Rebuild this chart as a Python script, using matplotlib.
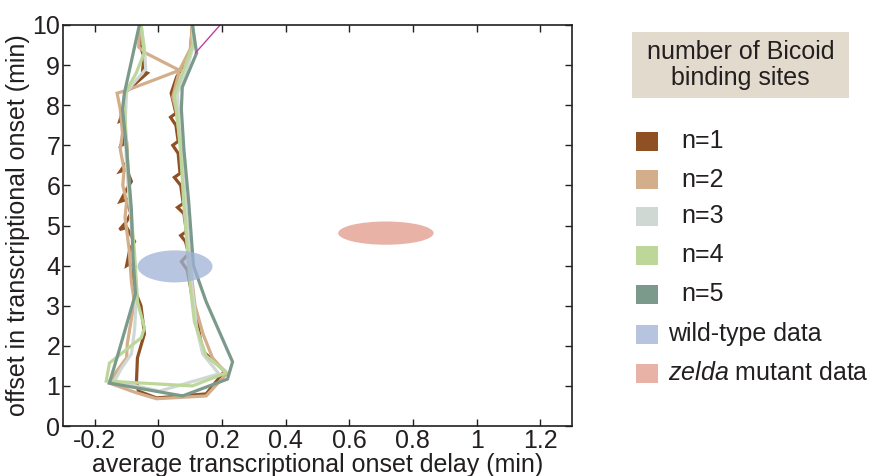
import matplotlib
matplotlib.use("Agg")
import matplotlib.pyplot as plt
from matplotlib.patches import Ellipse, Rectangle

plt.rcParams['font.family'] = ['Liberation Sans', 'DejaVu Sans']
plt.rcParams['mathtext.fontset'] = 'custom'
plt.rcParams['mathtext.rm'] = 'Liberation Sans'
plt.rcParams['mathtext.it'] = 'Liberation Sans:italic'

# model traces: closed loops (x = onset delay, y = offset)
n1_x = [-0.055, -0.058, -0.045, -0.05, -0.035, -0.1, -0.11, -0.11, -0.122, -0.105, -0.108, -0.118, -0.1,
        -0.098, -0.12, -0.1, -0.085, -0.1, -0.12, -0.1, -0.087, -0.1, -0.122, -0.1, -0.075, -0.09,
        -0.1, -0.09, -0.075, -0.07, -0.055, -0.044, -0.066, -0.069, -0.063, -0.006, 0.15, 0.208,
        0.139, 0.123, 0.11, 0.1, 0.09, 0.072, 0.095, 0.085, 0.07, 0.088, 0.08, 0.06, 0.078, 0.07,
        0.05, 0.068, 0.062, 0.045, 0.062, 0.055, 0.038, 0.055, 0.04, 0.057, 0.1, 0.107]
n1_y = [10.0, 9.5, 9.2, 8.85, 8.8, 8.35, 8.0, 7.9, 7.6, 7.65, 7.2, 7.0, 7.05,
        6.6, 6.35, 6.4, 6.1, 5.9, 5.6, 5.65, 5.3, 5.1, 4.9, 4.95, 4.6, 4.4,
        4.0, 4.05, 3.6, 3.3, 3.0, 2.3, 1.7, 1.12, 0.87, 0.7, 0.8, 1.37,
        1.87, 2.55, 3.0, 3.5, 3.9, 4.1, 4.3, 4.6, 4.75, 4.85, 5.3, 5.45, 5.55, 6.0,
        6.2, 6.3, 6.8, 7.0, 7.1, 7.5, 7.7, 7.8, 8.3, 8.7, 9.3, 10.0]

n2_x = [-0.058, -0.062, -0.04, 0.066, -0.1, -0.13, -0.12, -0.113, -0.12, -0.108, -0.112, -0.1,
        -0.105, -0.092, -0.085, -0.076, -0.098, -0.1, -0.13, -0.154, -0.07, -0.006, 0.15, 0.214,
        0.17, 0.14, 0.115, 0.1, 0.09, 0.08, 0.07, 0.055, 0.045, 0.066, 0.1, 0.107]
n2_y = [10.0, 9.45, 9.3, 8.87, 8.37, 8.3, 7.9, 7.3, 6.9, 6.4, 6.0, 5.6,
        5.2, 4.4, 3.6, 3.1, 2.05, 1.7, 1.38, 1.07, 0.83, 0.68, 0.75, 1.3,
        1.7, 2.3, 3.0, 4.0, 5.0, 6.0, 7.0, 7.9, 8.2, 8.87, 9.4, 10.0]

n3_x = [-0.055, -0.045, -0.04, -0.1, -0.105, -0.1, -0.09, -0.08, -0.068, -0.075, -0.085, -0.117,
        -0.138, 0.003, 0.19, 0.139, 0.12, 0.105, 0.095, 0.085, 0.075, 0.065, 0.06, 0.09, 0.11, 0.107]
n3_y = [10.0, 9.5, 8.9, 8.35, 7.5, 6.5, 5.5, 4.5, 3.4, 2.4, 1.8, 1.43,
        1.12, 0.87, 1.3, 1.8, 2.45, 3.5, 4.5, 5.5, 6.5, 7.5, 8.3, 8.9, 9.5, 10.0]

n4_x = [-0.054, -0.045, -0.07, -0.105, -0.108, -0.1, -0.088, -0.075, -0.066, -0.044, -0.054, -0.154,
        -0.164, 0.107, 0.214, 0.15, 0.113, 0.1, 0.09, 0.08, 0.07, 0.058, 0.05, 0.113, 0.107]
n4_y = [10.0, 9.3, 8.8, 8.3, 8.1, 7.0, 5.5, 4.3, 3.1, 2.45, 2.2, 1.57,
        1.12, 1.0, 1.33, 1.75, 2.6, 3.5, 4.5, 5.5, 6.8, 7.8, 8.25, 9.6, 10.0]

n5_x = [-0.06, -0.107, -0.113, -0.1, -0.085, -0.08, -0.072, -0.123, -0.154, 0.076, 0.217, 0.233,
        0.15, 0.11, 0.095, 0.08, 0.072, 0.075, 0.12, 0.107]
n5_y = [10.0, 8.3, 7.9, 6.9, 5.4, 4.2, 3.3, 1.9, 1.07, 0.75, 1.17, 1.6,
        3.1, 4.0, 5.6, 6.9, 7.9, 8.45, 9.3, 10.0]

series_labels = ['n=1', 'n=2', 'n=3', 'n=4', 'n=5']
series_colors = ['#8f5024', '#d3ae8b', '#cfd8d2', '#bdd79a', '#7b9a8b']

extra_x = [0.116, 0.194]
extra_y = [9.3, 10.0]

# measured data ellipses: center x, center y, width, height
wt_center = (0.052, 3.98)
wt_size = (0.236, 0.8)
zelda_center = (0.715, 4.81)
zelda_size = (0.30, 0.58)

xticks = [-0.2, 0, 0.2, 0.4, 0.6, 0.8, 1.0, 1.2]
xtick_labels = ['-0.2', '0', '0.2', '0.4', '0.6', '0.8', '1', '1.2']
yticks = list(range(0, 11))

W, H = 873, 476
fig = plt.figure(figsize=(W / 100, H / 100), dpi=100)
ax = fig.add_axes([63 / W, 1 - 426 / H, (572 - 63) / W, (426 - 25) / H])

series = [(n1_x, n1_y), (n2_x, n2_y), (n3_x, n3_y), (n4_x, n4_y), (n5_x, n5_y)]
for (xs, ys), c in zip(series, series_colors):
    ax.plot(xs, ys, color=c, lw=2.3, solid_joinstyle='miter', zorder=2)
ax.plot(extra_x, extra_y, color='#c23fa2', lw=1.0, zorder=2)

ax.add_patch(Ellipse(wt_center, *wt_size, facecolor='#9fb2d6', alpha=0.75,
                     edgecolor='none', zorder=3))
ax.add_patch(Ellipse(zelda_center, *zelda_size, facecolor='#e8b3a6',
                     edgecolor='none', zorder=3))

ax.set_xlim(-0.3, 1.3)
ax.set_ylim(0, 10)
ax.set_xticks(xticks)
ax.set_xticklabels(xtick_labels)
ax.set_yticks(yticks)
ax.tick_params(direction='in', top=True, right=True, length=5, width=1,
               labelsize=18, colors='#231f20', pad=2)
for s in ax.spines.values():
    s.set_linewidth(1.2)
    s.set_color('#231f20')
ax.set_xlabel('average transcriptional onset delay (min)', fontsize=18,
              color='#231f20', labelpad=0)
ax.set_ylabel('offset in transcriptional onset (min)', fontsize=18,
              color='#231f20', labelpad=2)


def fx(px):
    return px / W


def fy(py):
    return 1 - py / H


# legend drawn by hand in figure pixels
fig.add_artist(Rectangle((fx(632), fy(98)), (849 - 632) / W, (98 - 32) / H,
                         transform=fig.transFigure, facecolor='#e2dbcd',
                         edgecolor='none'))
fig.text(fx(740.5), fy(65), 'number of Bicoid\nbinding sites', ha='center',
         va='center', fontsize=18, color='#231f20', linespacing=1.15)

legend_rows = [141, 180, 216, 255, 294, 334, 373]
legend_texts = series_labels + ['wild-type data', r'$\it{zelda}$ mutant data']
legend_colors = series_colors + ['#b7c4df', '#e8b3a6']
for i, (yc, txt, c) in enumerate(zip(legend_rows, legend_texts, legend_colors)):
    fig.add_artist(Rectangle((fx(636), fy(yc + 9.5)), 22 / W, 19 / H,
                             transform=fig.transFigure, facecolor=c,
                             edgecolor='none'))
    tx = 681 if i < 5 else 668
    fig.text(fx(tx), fy(yc), txt, ha='left', va='center', fontsize=18,
             color='#231f20')

fig.savefig('out.png', dpi=100)
